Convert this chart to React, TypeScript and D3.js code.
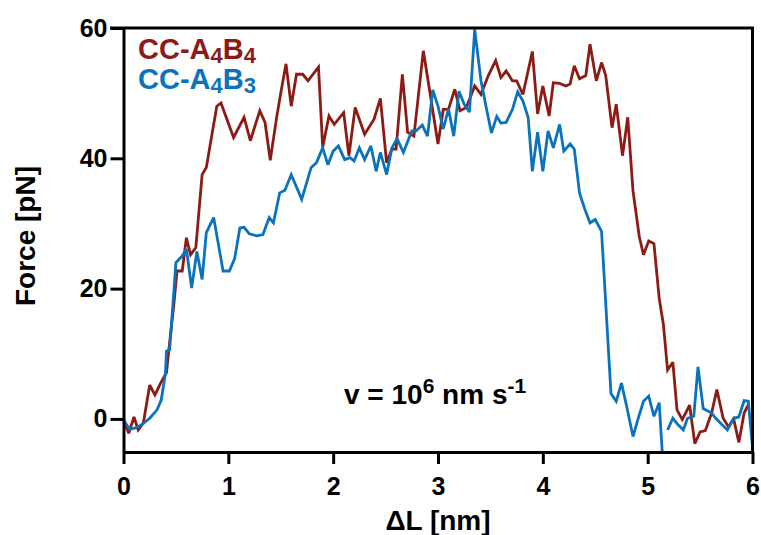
import React, { useEffect, useRef } from 'react';
import * as d3 from 'd3';

const xTicks = [0, 1, 2, 3, 4, 5, 6];
const yTicks = [0, 20, 40, 60];
const xDomain: [number, number] = [0, 6];
const yDomain: [number, number] = [-5, 60];

// CC-A4B4 (red): [ΔL nm, Force pN]
const redData: [number, number | null][] = [
  [0, 0], [0.05, -2.2], [0.10, 0.3], [0.14, -1.7], [0.19, -0.6], [0.25, 5.2], [0.30, 3.7],
  [0.36, 5.7], [0.41, 7.1], [0.44, 11.7], [0.48, 17.5], [0.51, 22.7], [0.56, 22.7], [0.60, 27.8],
  [0.64, 25.2], [0.69, 26.3], [0.75, 37.5], [0.79, 38.6], [0.89, 48.0], [0.93, 48.5], [1.05, 43.2],
  [1.15, 46.3], [1.21, 42.7], [1.30, 47.3], [1.35, 45.5], [1.40, 39.7], [1.46, 46.2], [1.50, 50.0],
  [1.55, 54.5], [1.60, 48.0], [1.65, 52.9], [1.71, 52.9], [1.76, 51.9], [1.86, 54.0], [1.90, 41.7],
  [1.96, 46.5], [2.01, 45.2], [2.10, 47.0], [2.15, 40.4], [2.21, 47.8], [2.30, 43.7], [2.39, 46.0],
  [2.45, 49.2], [2.51, 39.3], [2.56, 41.4], [2.60, 41.4], [2.66, 52.9], [2.71, 44.0], [2.77, 43.4],
  [2.86, 56.5], [2.92, 50.4], [3.00, 42.2], [3.05, 47.5], [3.10, 47.5], [3.16, 50.6], [3.21, 47.3],
  [3.27, 47.8], [3.35, 51.1], [3.41, 49.8], [3.48, 52.7], [3.55, 55.0], [3.60, 52.4], [3.65, 53.4],
  [3.71, 51.9], [3.75, 51.9], [3.81, 49.8], [3.90, 56.4], [3.95, 46.8], [4.00, 51.1], [4.06, 46.5],
  [4.10, 51.6], [4.16, 51.5], [4.22, 51.1], [4.26, 51.4], [4.30, 54.2], [4.35, 52.2], [4.41, 52.7],
  [4.45, 57.5], [4.51, 51.9], [4.56, 54.7], [4.60, 52.7], [4.66, 44.7], [4.70, 48.3], [4.76, 40.4],
  [4.81, 46.3], [4.86, 35.0], [4.92, 28.0], [4.96, 25.2], [5.01, 27.3], [5.06, 26.9], [5.11, 18.5],
  [5.15, 14.5], [5.19, 7.5], [5.24, 8.7], [5.28, 1.4], [5.33, -0.1], [5.40, 2.1], [5.45, -3.8],
  [5.50, -2.0], [5.55, -1.8], [5.61, 0.9], [5.66, 4.5], [5.72, 0.1], [5.77, -1.2], [5.82, 0.0],
  [5.87, -3.6], [5.92, 0.9], [5.96, 2.2],
];

// CC-A4B3 (blue): [ΔL nm, Force pN]; null = gap in the trace
const blueData: [number, number | null][] = [
  [0, -0.2], [0.06, -1.6], [0.13, -1.3], [0.19, -0.7], [0.25, 0.1], [0.32, 1.4], [0.36, 2.9],
  [0.40, 7.0], [0.41, 10.4], [0.44, 10.6], [0.50, 24.0], [0.56, 25.0], [0.60, 26.1], [0.65, 20.1],
  [0.70, 25.7], [0.75, 21.4], [0.79, 28.6], [0.86, 30.9], [0.95, 22.7], [1.01, 22.7], [1.06, 24.6],
  [1.11, 29.3], [1.15, 29.4], [1.20, 28.4], [1.27, 28.1], [1.33, 28.3], [1.39, 30.9], [1.43, 30.1],
  [1.49, 34.7], [1.54, 35.1], [1.60, 37.5], [1.70, 33.7], [1.79, 38.6], [1.84, 39.3], [1.90, 41.6],
  [1.95, 39.0], [2.00, 41.1], [2.05, 41.9], [2.11, 39.8], [2.16, 40.1], [2.20, 39.6], [2.25, 41.6],
  [2.30, 39.8], [2.36, 41.9], [2.41, 38.0], [2.45, 40.9], [2.51, 37.5], [2.56, 41.6], [2.61, 43.0],
  [2.67, 40.9], [2.75, 44.2], [2.79, 44.2], [2.85, 45.1], [2.90, 43.4], [2.95, 50.5], [3.00, 48.0],
  [3.05, 44.5], [3.10, 47.6], [3.15, 43.4], [3.20, 50.3], [3.25, 48.3], [3.30, 47.1], [3.35, 59.8],
  [3.41, 51.9], [3.46, 47.8], [3.51, 43.9], [3.56, 46.4], [3.60, 45.4], [3.65, 45.5], [3.71, 47.5],
  [3.76, 50.2], [3.81, 48.8], [3.86, 46.3], [3.90, 38.0], [3.95, 44.0], [4.00, 38.0], [4.05, 44.2],
  [4.10, 41.6], [4.16, 45.2], [4.20, 41.1], [4.26, 42.2], [4.30, 41.4], [4.35, 34.7], [4.40, 32.2],
  [4.45, 30.1], [4.50, 30.6], [4.56, 28.8], [4.65, 3.9], [4.70, 2.7], [4.75, 5.5], [4.80, 1.9],
  [4.86, -2.7], [4.91, 0.1], [4.96, 2.7], [5.01, 3.5], [5.06, 0.4], [5.11, 2.5], [5.15, -8.0],
  [5.17, null], [5.19, -1.7], [5.24, 0.1], [5.29, -0.9], [5.34, -1.7], [5.38, 0.1], [5.44, 0.4],
  [5.48, 8.0], [5.53, 1.6], [5.61, 0.9], [5.65, 0.1], [5.71, -0.9], [5.76, -1.7], [5.82, 0.1],
  [5.87, 0.3], [5.92, 2.8], [5.96, 2.7], [6.00, -4.3],
];

const seriesColors = ['#8C1B15', '#0A73BC'];

const FONT = "'Liberation Sans', Arial, Helvetica, sans-serif";

export default function App() {
  const ref = useRef<SVGSVGElement>(null);

  useEffect(() => {
    const svg = d3.select(ref.current);
    svg.selectAll('*').remove();

    const x = d3.scaleLinear().domain(xDomain).range([123.5, 752.5]);
    const y = d3.scaleLinear().domain(yDomain).range([451.5, 28]);

    const defs = svg.append('defs');
    defs.append('clipPath').attr('id', 'plotclip')
      .append('rect')
      .attr('x', x(xDomain[0]))
      .attr('y', y(yDomain[1]))
      .attr('width', x(xDomain[1]) - x(xDomain[0]))
      .attr('height', y(yDomain[0]) - y(yDomain[1]));

    const line = d3.line<[number, number | null]>()
      .defined(d => d[1] !== null)
      .x(d => x(d[0]))
      .y(d => y(d[1] as number));

    const plot = svg.append('g').attr('clip-path', 'url(#plotclip)');
    [redData, blueData].forEach((data, i) => {
      plot.append('path')
        .datum(data)
        .attr('d', line)
        .attr('fill', 'none')
        .attr('stroke', seriesColors[i])
        .attr('stroke-width', 2.8)
        .attr('stroke-linejoin', 'miter')
        .attr('stroke-miterlimit', 3);
    });

    // frame: top and right
    svg.append('line')
      .attr('x1', 110).attr('x2', x(xDomain[1]) + 1.5)
      .attr('y1', y(yDomain[1])).attr('y2', y(yDomain[1]))
      .attr('stroke', '#000').attr('stroke-width', 3);
    svg.append('line')
      .attr('x1', x(xDomain[1])).attr('x2', x(xDomain[1]))
      .attr('y1', y(yDomain[1])).attr('y2', y(yDomain[0]) + 1)
      .attr('stroke', '#000').attr('stroke-width', 3);

    // x axis
    const gx = svg.append('g').attr('transform', `translate(0,${y(yDomain[0]) + 0.5})`)
      .call(d3.axisBottom(x).tickValues(xTicks).tickFormat(d3.format('d')).tickSize(12).tickSizeOuter(0).tickPadding(13));
    // y axis
    const gy = svg.append('g').attr('transform', `translate(${x(xDomain[0])},0)`)
      .call(d3.axisLeft(y).tickValues(yTicks).tickFormat(d3.format('d')).tickSize(13).tickSizeOuter(0).tickPadding(3));

    [gx, gy].forEach(g => {
      g.select('.domain').attr('stroke', '#000').attr('stroke-width', 3);
      g.selectAll('.tick line').attr('stroke', '#000').attr('stroke-width', 3);
      g.selectAll('.tick text')
        .attr('fill', '#000')
        .style('font-family', FONT)
        .style('font-size', '25px')
        .style('font-weight', 'bold');
    });

    // axis titles
    svg.append('text')
      .attr('x', 438).attr('y', 530)
      .attr('text-anchor', 'middle')
      .style('font-family', FONT).style('font-size', '28px').style('font-weight', 'bold')
      .text('ΔL [nm]');
    svg.append('text')
      .attr('transform', 'translate(35,236) rotate(-90)')
      .attr('text-anchor', 'middle')
      .style('font-family', FONT).style('font-size', '28px').style('font-weight', 'bold')
      .text('Force [pN]');

    // legend
    const legend = [
      { base: 'CC-A', sub1: '4', mid: 'B', sub2: '4', color: seriesColors[0], yPos: 59 },
      { base: 'CC-A', sub1: '4', mid: 'B', sub2: '3', color: seriesColors[1], yPos: 89 },
    ];
    legend.forEach(l => {
      const t = svg.append('text')
        .attr('x', 138).attr('y', l.yPos)
        .attr('fill', l.color)
        .style('font-family', FONT).style('font-size', '29px').style('font-weight', 'bold');
      t.append('tspan').text(l.base);
      t.append('tspan').attr('dy', 4).style('font-size', '22px').text(l.sub1);
      t.append('tspan').attr('dy', -4).text(l.mid);
      t.append('tspan').attr('dy', 4).style('font-size', '22px').text(l.sub2);
    });

    // velocity annotation
    const v = svg.append('text')
      .attr('x', 344).attr('y', 404)
      .attr('fill', '#000')
      .style('font-family', FONT).style('font-size', '28px').style('font-weight', 'bold');
    v.append('tspan').text('v = 10');
    v.append('tspan').attr('dy', -11).style('font-size', '21px').text('6');
    v.append('tspan').attr('dy', 11).text(' nm s');
    v.append('tspan').attr('dy', -11).style('font-size', '21px').text('-1');
  }, []);

  return (
    <svg
      ref={ref}
      width={761}
      height={535}
      style={{ position: 'absolute', left: 0, top: 0, background: '#fff' }}
    />
  );
}
